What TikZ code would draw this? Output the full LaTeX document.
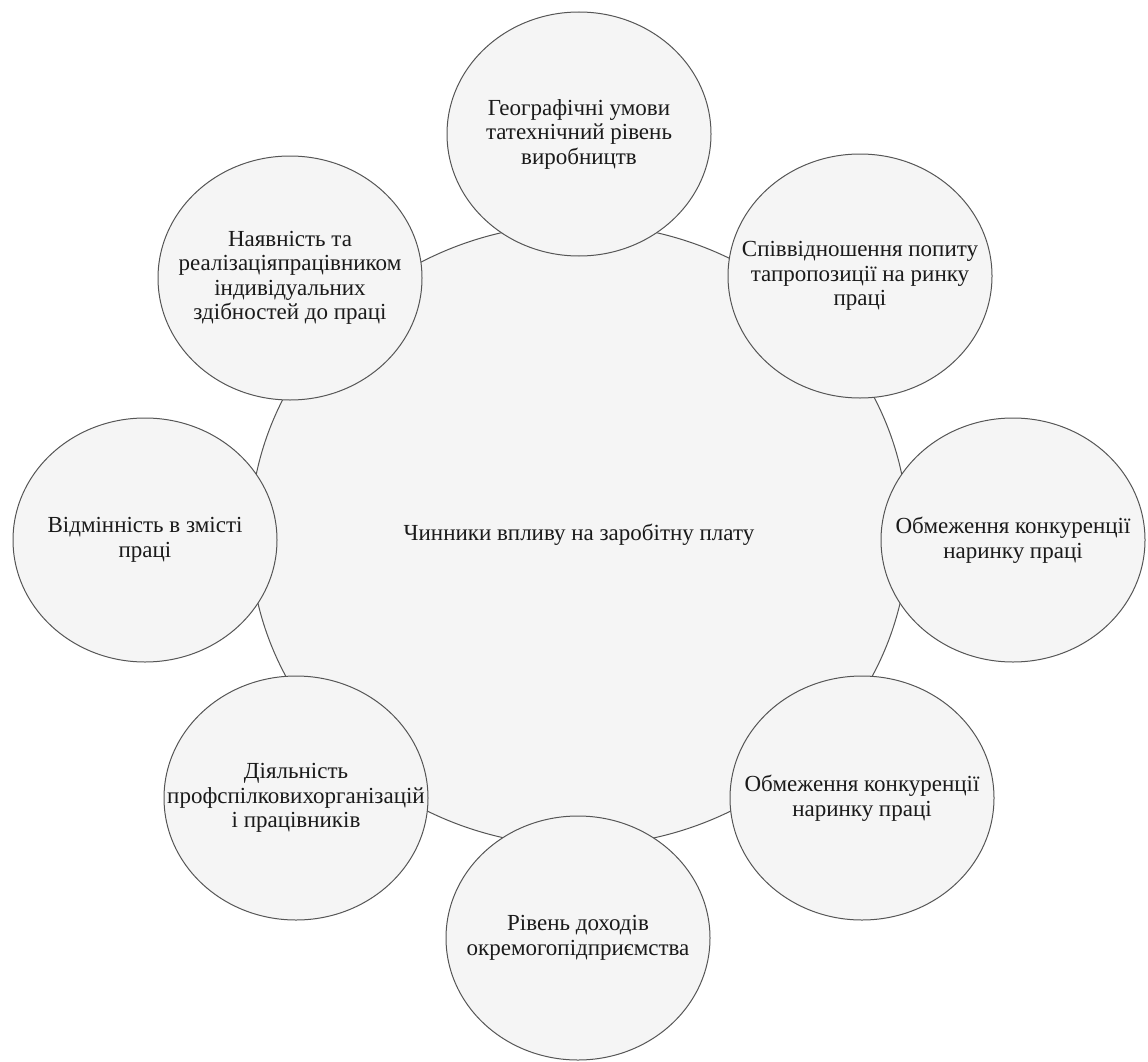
\documentclass[tikz,border=0pt]{standalone}
\usepackage{fontspec}
\setmainfont{Liberation Serif}
\usetikzlibrary{shapes.geometric}
\definecolor{edgegray}{HTML}{555555}
\definecolor{fillgray}{HTML}{F5F5F5}
\definecolor{txtgray}{HTML}{1A1A1A}
\begin{document}
\begin{tikzpicture}[x=1pt,y=-1pt,
  bubble/.style={ellipse, draw=edgegray, fill=fillgray, line width=1pt,
    minimum width=264pt, minimum height=244pt, inner sep=0pt},
  hub/.style={bubble, minimum width=658pt, minimum height=622pt},
  lbl/.style={align=center, inner sep=0pt, text=txtgray,
    font=\fontsize{23}{24.5}\selectfont}
]
\useasboundingbox (0,0) rectangle (1148,1062);
\node[hub] (hub) at (579,535) {};
\node[lbl] (hubt) at (hub) {Чинники впливу на заробітну плату};

\node[bubble] (b1) at (579,134) {};
\node[lbl] (t1) at (b1) {Географічні умови\\татехнічний рівень\\виробництв};

\node[bubble] (b2) at (860,276) {};
\node[lbl] (t2) at (b2) {Співвідношення попиту\\тапропозиції на ринку\\праці};

\node[bubble] (b3) at (1013,540) {};
\node[lbl] (t3) at (b3) {Обмеження конкуренції\\наринку праці};

\node[bubble] (b4) at (862,798) {};
\node[lbl] (t4) at (b4) {Обмеження конкуренції\\наринку праці};

\node[bubble] (b5) at (578,938) {};
\node[lbl] (t5) at (b5) {Рівень доходів\\окремогопідприємства};

\node[bubble] (b6) at (296,798) {};
\node[lbl] (t6) at (b6) {Діяльність\\профспілковихорганізацій\\і працівників};

\node[bubble] (b7) at (145,540) {};
\node[lbl] (t7) at (b7) {Відмінність в змісті\\праці};

\node[bubble] (b8) at (290,278) {};
\node[lbl] (t8) at (b8) {Наявність та\\реалізаціяпрацівником\\індивідуальних\\здібностей до праці};
\end{tikzpicture}
\end{document}
